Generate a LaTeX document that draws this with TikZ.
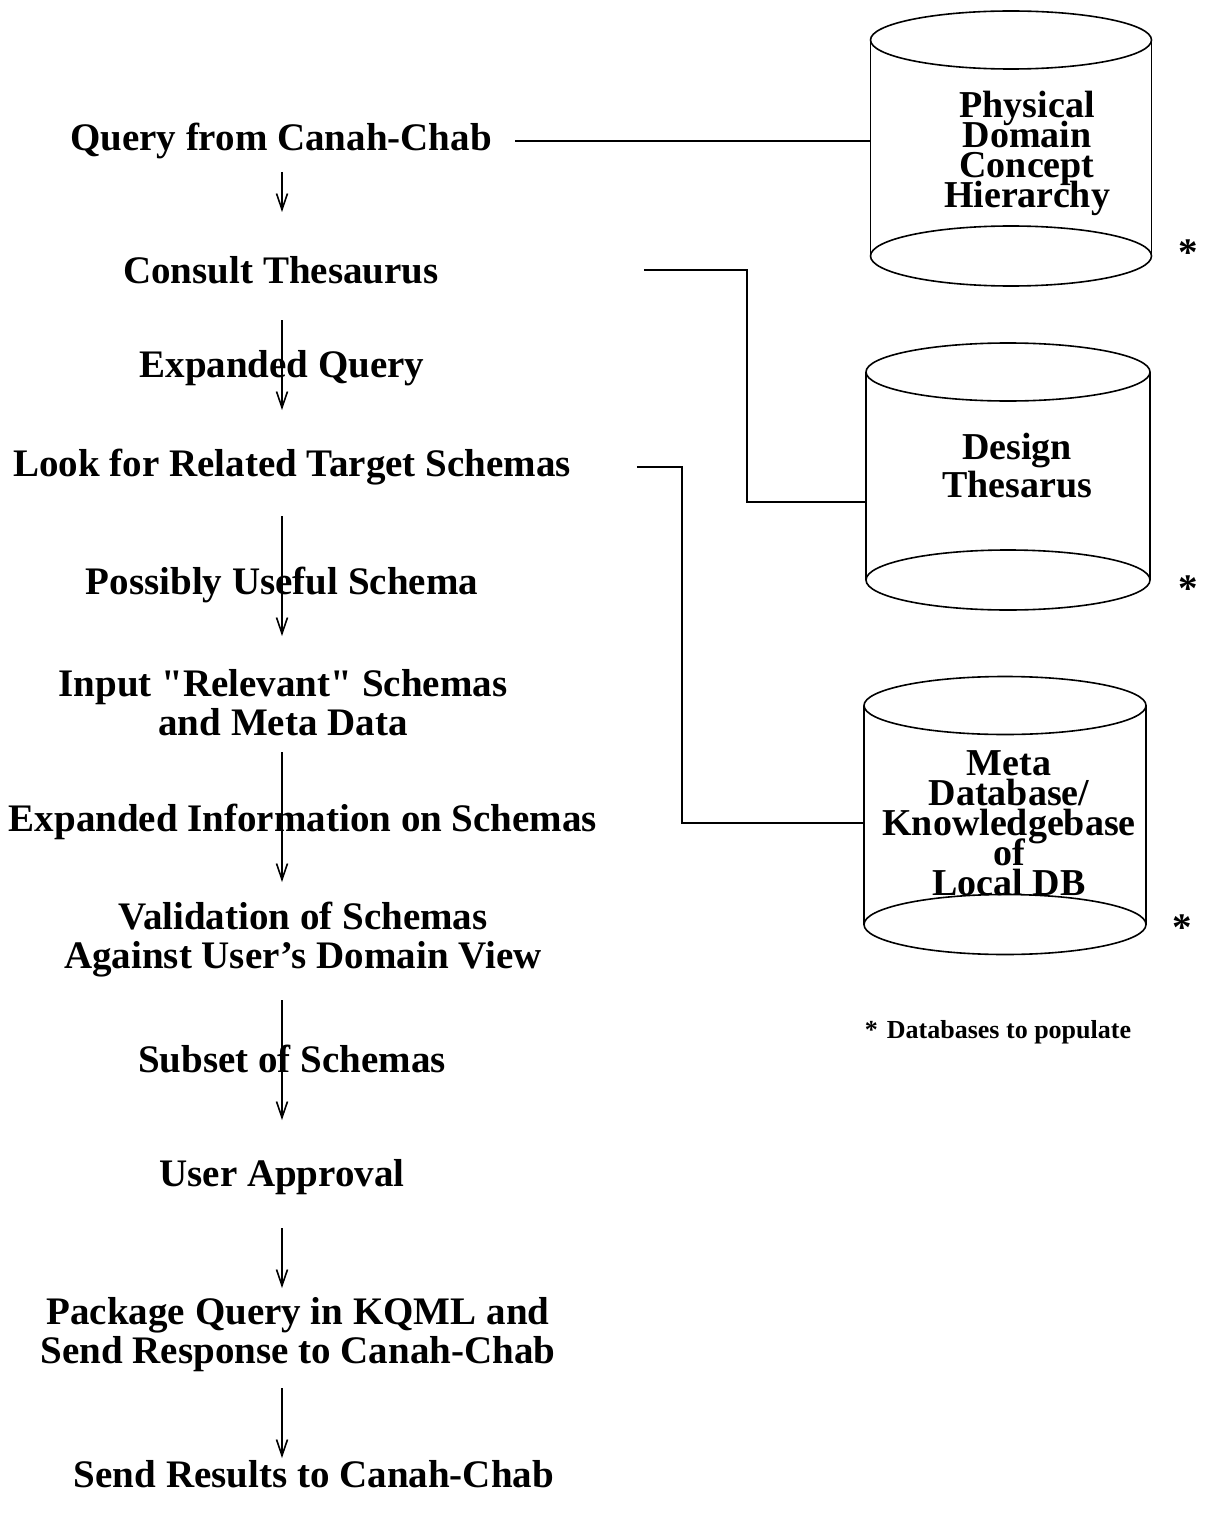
\documentclass[tikz,border=0pt]{standalone}
\usepackage{fontspec}
\setmainfont{Liberation Serif}
\usetikzlibrary{arrows.meta}

\begin{document}
\begin{tikzpicture}[x=1pt, y=1pt,
    stage/.style={font=\bfseries\fontsize{39}{39}\selectfont, inner sep=0pt},
    stagetwo/.style={stage, align=center},
    dbtext/.style={font={\bfseries\fontsize{38}{30}\selectfont\setlength{\lineskiplimit}{-60pt}},
                   inner sep=0pt, align=center},
    db/.style={inner sep=0pt, outer sep=0pt},
    flow/.style={-{Straight Barb[length=16pt, width=11pt]}, line width=1.6pt},
    link/.style={line width=1.6pt},
    rim/.style={line width=1.6pt}
  ]
  \useasboundingbox (0,0) rectangle (1207,-1522);
  \coordinate (spine) at (282,0);

  % process steps
  \node[stage]    (q1) at (281,-141)  {Query from Canah-Chab};
  \node[stage]    (ct) at (281,-270)  {Consult Thesaurus};
  \node[stage]    (lk) at (292,-467)  {Look for Related Target Schemas};
  \node[stagetwo] (ir) at (283,-703)  {Input \textquotedbl Relevant\textquotedbl{} Schemas\\and Meta Data};
  \node[stagetwo] (vs) at (303,-940)  {Validation of Schemas\\Against User's Domain View};
  \node[stage]    (ua) at (282,-1177) {User Approval};
  \node[stagetwo] (pq) at (298,-1335) {Package Query in KQML and\\Send Response to Canah-Chab};
  \node[stage]    (sr) at (314,-1474) {Send Results to Canah-Chab};

  \draw[flow, shorten <=31pt, shorten >=58pt] (q1 -| spine) -- (ct -| spine);
  \draw[flow, shorten <=50pt, shorten >=57pt] (ct -| spine) --
    node[stage] (eq) {Expanded Query} (lk -| spine);
  \draw[flow, shorten <=49pt, shorten >=67pt] (lk -| spine) --
    node[stage] (pu) {Possibly Useful Schema} (ir -| spine);
  \draw[flow, shorten <=49pt, shorten >=58pt] (ir -| spine) --
    node[stage, xshift=21pt] (ei) {Expanded Information on Schemas} (vs -| spine);
  \draw[flow, shorten <=60pt, shorten >=57pt] (vs -| spine) --
    node[stage, xshift=10pt] (ss) {Subset of Schemas} (ua -| spine);
  \draw[flow, shorten <=51pt, shorten >=47pt] (ua -| spine) -- (pq -| spine);
  \draw[flow, shorten <=53pt, shorten >=16pt] (pq -| spine) -- (sr -| spine);

  % databases
  \node[db, minimum width=281pt, minimum height=216pt] (cylA) at (1011,-148) {};
  \node[db, minimum width=284pt, minimum height=208pt] (cylB) at (1008,-476) {};
  \node[db, minimum width=282pt, minimum height=219pt] (cylC) at (1005,-815) {};
  \foreach \c/\r in {cylA/140.5, cylB/142, cylC/141}{
    \draw[rim] (\c.north west) -- (\c.south west) (\c.north east) -- (\c.south east);
    \draw[rim] (\c.north) ellipse [x radius=\r, y radius=29]
               (\c.south) ellipse [x radius=\r, y radius=30];
  }
  \node[dbtext] (pdch) at (1027,-153) {Physical\\Domain\\Concept\\Hierarchy};
  \node[dbtext, font=\bfseries\fontsize{38}{38}\selectfont] (dth) at (1017,-466) {Design\\Thesarus};
  \node[dbtext] (mdb) at (1009,-823) {Meta\\Database/\\Knowledgebase\\of\\Local DB};

  \node[stage] (starA) at (1188,-253) {*};
  \node[stage] (starB) at (1188,-589) {*};
  \node[stage] (starC) at (1182,-928) {*};
  \node[font=\bfseries\fontsize{26}{26}\selectfont, inner sep=0pt] (note) at (998,-1032)
    {*\hspace{9pt}Databases to populate};

  \coordinate (dropB) at (747,-502);
  \coordinate (dropC) at (682,-823);
  \draw[link, shorten <=23pt] (q1.east) -- (q1.east -| cylA.west);
  \draw[link, shorten <=205pt] (ct.east) -| (dropB) -- (dropB -| cylB.west);
  \draw[link, shorten <=66pt] (lk.east) -| (dropC) -- (dropC -| cylC.west);
\end{tikzpicture}
\end{document}
